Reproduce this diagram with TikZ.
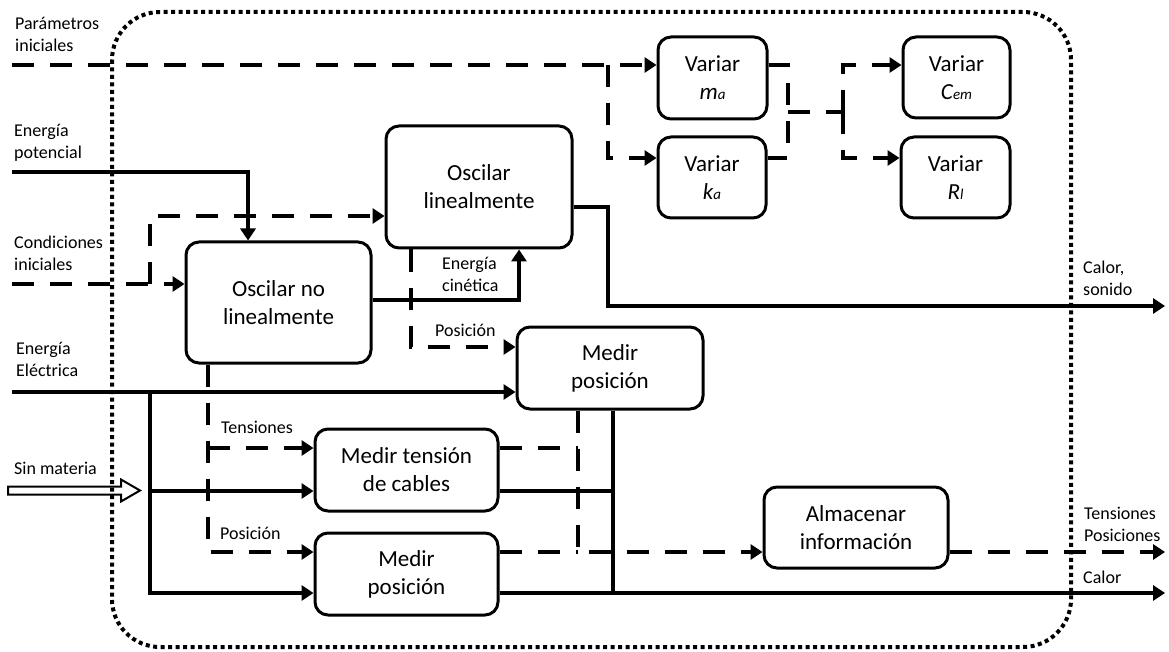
\documentclass[tikz,border=0pt]{standalone}
\usepackage{fontspec}
\setmainfont{Carlito}
\usetikzlibrary{arrows.meta}

\tikzset{
  bloque/.style={draw, line width=3pt, rounded corners=13pt, align=center, inner sep=0pt,
    font=\fontsize{23}{28}\selectfont},
  energia/.style={line width=4.5pt},
  info/.style={line width=4.5pt, dash pattern=on 22pt off 16pt},
  flecha/.style={-{Triangle[length=12pt,width=15pt]}},
  etiqueta/.style={anchor=base west, inner sep=0pt, align=left, font=\fontsize{18}{22}\selectfont},
  borde/.style={line width=4pt, dash pattern=on 4pt off 3.5pt, rounded corners=48pt},
}
\newcommand{\subv}[2]{\textit{#1{\fontsize{15}{15}\selectfont #2}}}

\begin{document}
\begin{tikzpicture}[x=1pt,y=-1pt]
\useasboundingbox (0,0) rectangle (1169,652);

%Shape: system boundary
\draw [borde] (112,12) rectangle (1071,647);

%Blocks
\node [bloque, minimum width=185pt, minimum height=121pt] (onl) at (278.5,302.5) {Oscilar no\\linealmente};
\node [bloque, minimum width=186pt, minimum height=122pt] (ol) at (479,187) {Oscilar\\linealmente};
\node [bloque, minimum width=109pt, minimum height=82pt] (vma) at (712.5,78) {Variar\\\subv{m}{a}};
\node [bloque, minimum width=108pt, minimum height=81pt] (vka) at (712,177.5) {Variar\\\subv{k}{a}};
\node [bloque, minimum width=107pt, minimum height=81pt] (vcem) at (956.5,77.5) {Variar\\\subv{C}{em}};
\node [bloque, minimum width=109pt, minimum height=81pt] (vrl) at (955.5,177.5) {Variar\\\subv{R}{l}};
\node [bloque, minimum width=186pt, minimum height=82pt] (mp1) at (610,368) {Medir\\posición};
\node [bloque, minimum width=183pt, minimum height=82pt] (mtc) at (406.5,470) {Medir tensión\\de cables};
\node [bloque, minimum width=183pt, minimum height=82pt] (mp2) at (406.5,574) {Medir\\posición};
\node [bloque, minimum width=184pt, minimum height=81pt] (ai) at (856,527.5) {Almacenar\\información};

%Free ends and junctions
\coordinate (inPI) at (12,65);
\coordinate (jPI) at (608,65);
\coordinate (jPI2) at (608,158);
\coordinate (jV1) at (788,65);
\coordinate (jV2) at (788,158);
\coordinate (jV3) at (788,112);
\coordinate (jV4) at (843,112);
\coordinate (jV5) at (843,65);
\coordinate (jV6) at (843,158);
\coordinate (inEP) at (12,172);
\coordinate (jEP) at (248,172);
\coordinate (inCI) at (12,284);
\coordinate (jCI) at (150,284);
\coordinate (jCI2) at (150,216);
\coordinate (jEC) at (519,300);
\coordinate (jCS) at (608,207);
\coordinate (jCS2) at (608,306);
\coordinate (outCS) at (1165,306);
\coordinate (jP1) at (411,347);
\coordinate (inEE) at (12,392);
\coordinate (jEE) at (150,392);
\coordinate (jEE2) at (150,593);
\coordinate (jEE3) at (150,491);
\coordinate (inSM) at (8,490.5);
\coordinate (jT) at (208,448);
\coordinate (jT2) at (208,552);
\coordinate (jD) at (578,552);
\coordinate (jD2) at (578,448);
\coordinate (jS) at (613,593);
\coordinate (jS2) at (613,491);
\coordinate (outTP) at (1165,552);
\coordinate (outC) at (1165,593);

%Parametros iniciales
\draw [info, flecha] (inPI) -- (vma.west |- inPI);
\draw [info, flecha] (jPI) -- (jPI2) -- (vka.west |- jPI2);
\draw [info] (vma.east |- jV1) -- (jV1) -- (jV2) -- (vka.east |- jV2);
\draw [info] (jV3) -- (jV4);
\draw [info, flecha] (jV4) |- (vcem.west |- jV5);
\draw [info, flecha] (jV4) |- (vrl.west |- jV6);

%Energia potencial, condiciones iniciales
\draw [energia, flecha] (inEP) -- (jEP) -- (jEP |- onl.north);
\draw [info, flecha] (inCI) -- (onl.west |- inCI);
\draw [info, flecha] (jCI) -- (jCI2) -- (ol.west |- jCI2);

%Energia cinetica, calor
\draw [energia, flecha] (onl.east |- jEC) -- (jEC) -- (jEC |- ol.south);
\draw [energia, flecha] (ol.east |- jCS) -- (jCS) -- (jCS2) -- (outCS);
\draw [info, flecha] (jP1 |- ol.south) -- (jP1) -- (mp1.west |- jP1);

%Energia electrica
\draw [energia, flecha] (inEE) -- (mp1.west |- inEE);
\draw [energia, flecha] (jEE) -- (jEE2) -- (mp2.west |- jEE2);
\draw [energia, flecha] (jEE3) -- (mtc.west |- jEE3);

%Sin materia
\draw [line width=2pt] (inSM) ++(0,-4) -- ++(113,0) -- ++(0,-7) -- ++(19,11) -- ++(-19,11) -- ++(0,-7) -- ++(-113,0) -- cycle;

%Tensiones, posicion
\draw [info, flecha] (jT2 |- onl.south) -- (jT2) -- (mp2.west |- jT2);
\draw [info, flecha] (jT) -- (mtc.west |- jT);
\draw [info, flecha] (jD |- mp1.south) -- (jD) -- (ai.west |- jD);
\draw [info] (mtc.east |- jD2) -- (jD2);
\draw [info] (mp2.east |- jD) -- (jD);
\draw [energia] (jS |- mp1.south) -- (jS);
\draw [energia] (mtc.east |- jS2) -- (jS2);
\draw [energia, flecha] (mp2.east |- jS) -- (outC);
\draw [info, flecha] (ai.east |- jD) -- (outTP);

% Text Node
\node [etiqueta] (lblPI) at (15,52) {Parámetros\\iniciales};
% Text Node
\node [etiqueta] (lblEP) at (14,159) {Energía\\potencial};
% Text Node
\node [etiqueta] (lblCI) at (14,270) {Condiciones\\iniciales};
% Text Node
\node [etiqueta] (lblEE) at (16,376) {Energía\\Eléctrica};
% Text Node
\node [etiqueta] (lblSM) at (14,474) {Sin materia};
% Text Node
\node [etiqueta] (lblEC) at (442,291) {Energía\\cinética};
% Text Node
\node [etiqueta] (lblP1) at (435,336) {Posición};
% Text Node
\node [etiqueta] (lblT) at (221,433) {Tensiones};
% Text Node
\node [etiqueta] (lblP2) at (220,539) {Posición};
% Text Node
\node [etiqueta] (lblCS) at (1083,295) {Calor,\\sonido};
% Text Node
\node [etiqueta] (lblTP) at (1084,541) {Tensiones\\Posiciones};
% Text Node
\node [etiqueta] (lblC) at (1083,583) {Calor};

\end{tikzpicture}
\end{document}
